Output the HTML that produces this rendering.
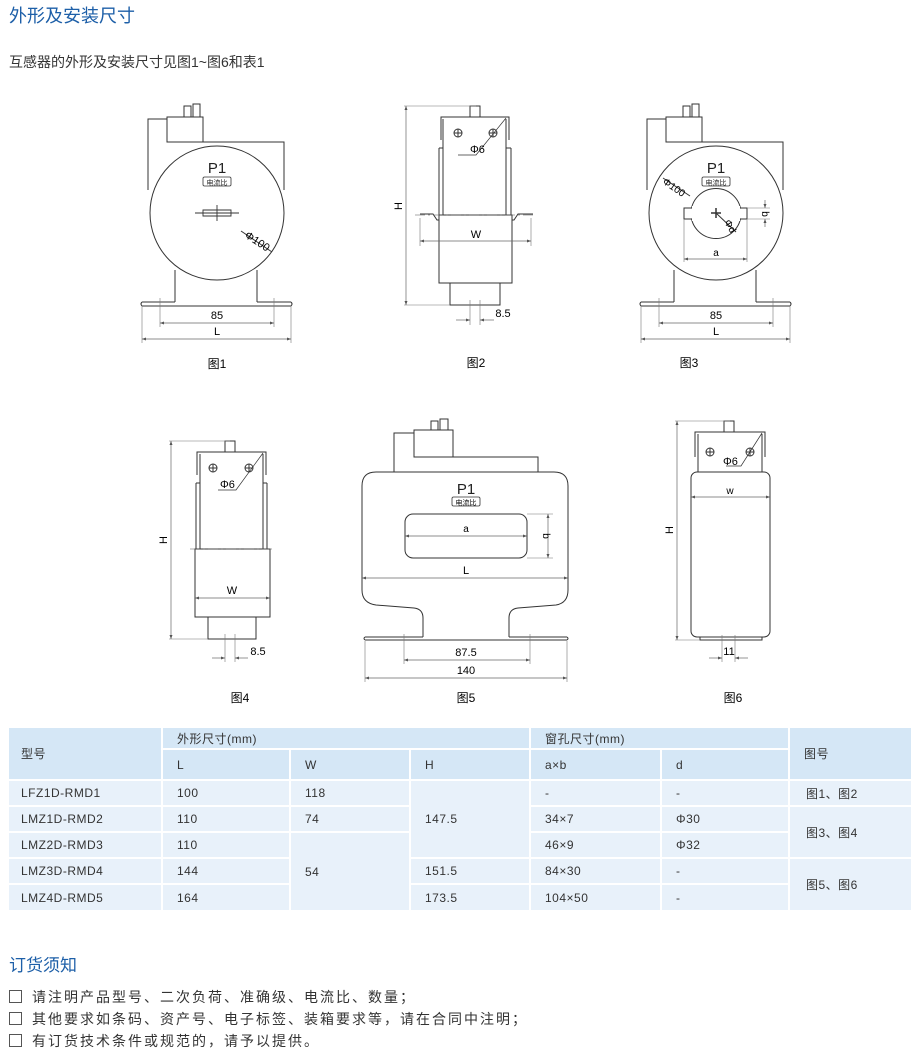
<!DOCTYPE html>
<html><head><meta charset="utf-8">
<style>
body{margin:0;width:920px;height:1054px;background:#fff;position:relative;overflow:hidden;font-family:"Liberation Sans","Noto Sans CJK SC",sans-serif;color:#333}
.a{position:absolute;white-space:nowrap}
.c{position:absolute;box-sizing:border-box;font-size:12px;color:#333;display:flex;align-items:center;padding-left:14px;letter-spacing:0.5px}
.h{background:#d5e7f6}
.d{background:#e8f1fa}
.box{display:inline-block;width:11px;height:11px;border:1px solid #555;margin-right:10px;vertical-align:-1px}
</style></head><body>
<div class="a" style="left:9px;top:2px;font-size:18px;color:#1d5fa8">外形及安装尺寸</div>
<div class="a" style="left:9px;top:52px;font-size:14px;color:#333">互感器的外形及安装尺寸见图1~图6和表1</div>

<svg class="a" style="left:0;top:0" width="920" height="720" viewBox="0 0 920 720" font-family="Liberation Sans, Noto Sans CJK SC, sans-serif">
<defs>
<marker id="ar" viewBox="0 0 8 6" refX="8" refY="3" markerWidth="6" markerHeight="5" orient="auto-start-reverse"><path d="M0,0L8,3L0,6z" fill="#555"/></marker>
<g id="fig1">
 <path d="M148,190 V119 H167 M203,142 H284 V190" fill="none" stroke="#333"/>
 <rect x="167" y="117" width="36" height="25" fill="none" stroke="#333"/>
 <rect x="184" y="106" width="7" height="11" fill="none" stroke="#333"/>
 <rect x="193" y="104" width="7" height="13" fill="none" stroke="#333"/>
 <circle cx="217" cy="213" r="67" fill="#fff" stroke="#333"/>
 <path d="M175,270 V302 M257,270 V302" stroke="#333"/>
 <path d="M142,302 H175 M257,302 H291 M142,306 H291" stroke="#333"/>
 <path d="M142,302 Q140,304 142,306 M291,302 Q293,304 291,306" stroke="#333" fill="none"/>
 <text x="217" y="173" font-size="15" text-anchor="middle" fill="#222">P1</text>
 <rect x="203" y="177" width="28" height="9" rx="1.5" fill="#fff" stroke="#333" stroke-width="0.8"/>
 <text x="217" y="185" font-size="7" text-anchor="middle" fill="#222">电流比</text>
 <line x1="142" y1="306" x2="142" y2="343" stroke="#777" stroke-width="0.6"/>
 <line x1="291" y1="306" x2="291" y2="343" stroke="#777" stroke-width="0.6"/>
 <line x1="160" y1="298" x2="160" y2="327" stroke="#777" stroke-width="0.6"/>
 <line x1="274" y1="298" x2="274" y2="327" stroke="#777" stroke-width="0.6"/>
 <line x1="160" y1="323" x2="274" y2="323" stroke="#666" stroke-width="0.7" marker-start="url(#ar)" marker-end="url(#ar)"/>
 <line x1="142" y1="339" x2="291" y2="339" stroke="#666" stroke-width="0.7" marker-start="url(#ar)" marker-end="url(#ar)"/>
 <text x="217" y="319" font-size="11" text-anchor="middle">85</text>
 <text x="217" y="335" font-size="11" text-anchor="middle">L</text>
</g>
</defs>

<!-- Fig1 -->
<use href="#fig1"/>
<path d="M195,213 H239 M203,210 H231 V216 H203 Z M217,205 V221" fill="none" stroke="#333" stroke-width="0.9"/>
<line x1="241" y1="231" x2="272" y2="252" stroke="#333"/>
<text x="244" y="237" font-size="11" transform="rotate(33 244 237)">Φ100</text>
<text x="217" y="368" font-size="12" text-anchor="middle">图1</text>

<!-- Fig3 -->
<use href="#fig1" transform="translate(499,0)"/>
<rect x="684" y="208" width="63" height="11" fill="#fff" stroke="#333"/>
<circle cx="716" cy="213.5" r="25" fill="#fff" stroke="#333"/>
<rect x="692" y="206" width="48" height="15" fill="#fff"/>
<rect x="684.6" y="208.6" width="61.8" height="9.8" fill="#fff"/>
<path d="M711,213 H721 M716,208 V218" stroke="#333" stroke-width="1.5"/>
<line x1="716" y1="213" x2="736" y2="232" stroke="#333"/>
<text x="724" y="222" font-size="10" transform="rotate(60 724 222)">Φd</text>
<line x1="663" y1="178" x2="690" y2="196" stroke="#333"/>
<text x="662" y="183" font-size="10" transform="rotate(35 662 183)">Φ100</text>
<path d="M684,219 V262 M747,219 V262 M747,208 H770 M747,219 H770" stroke="#777" stroke-width="0.6"/>
<line x1="684" y1="259" x2="747" y2="259" stroke="#666" stroke-width="0.7" marker-start="url(#ar)" marker-end="url(#ar)"/>
<text x="716" y="256" font-size="10" text-anchor="middle">a</text>
<line x1="765" y1="200" x2="765" y2="208" stroke="#666" stroke-width="0.7" marker-end="url(#ar)"/>
<line x1="765" y1="227" x2="765" y2="219" stroke="#666" stroke-width="0.7" marker-end="url(#ar)"/>
<text x="762" y="214" font-size="10" transform="rotate(90 762 214)" text-anchor="middle">b</text>
<text x="689" y="367" font-size="12" text-anchor="middle">图3</text>

<!-- Fig2 -->
<g fill="none" stroke="#333">
 <path d="M441,140 V117 H509 V140 M443,119 V215 M506,119 V215"/>
 <path d="M439,148 H443 M439,148 V215 M511,148 H506 M511,148 V215"/>
 <rect x="439" y="215" width="73" height="68"/>
 <rect x="450" y="283" width="50" height="22"/>
 <rect x="470" y="106" width="10" height="11"/>
 <path d="M420,214 H433 L437,220 H439 M533,214 H518 L514,220 H512"/>
 <circle cx="458" cy="133" r="4"/><path d="M454,133H462M458,129V137"/>
 <circle cx="493" cy="133" r="4"/><path d="M489,133H497M493,129V137"/>
 <path d="M506,118 L476,155 H458" stroke-width="0.7"/>
</g>
<line x1="415" y1="215" x2="535" y2="215" stroke="#555" stroke-width="0.6" stroke-dasharray="10,3,2,3"/>
<text x="470" y="153" font-size="11">Φ6</text>
<path d="M404,106 H476 M404,305 H450 M420,218 V246 M531,218 V246 M470,300 V325 M480,300 V325" stroke="#777" stroke-width="0.6"/>
<line x1="406" y1="106" x2="406" y2="305" stroke="#666" stroke-width="0.7" marker-start="url(#ar)" marker-end="url(#ar)"/>
<text x="402" y="206" font-size="11" transform="rotate(-90 402 206)" text-anchor="middle">H</text>
<line x1="420" y1="241" x2="531" y2="241" stroke="#666" stroke-width="0.7" marker-start="url(#ar)" marker-end="url(#ar)"/>
<text x="476" y="238" font-size="11" text-anchor="middle">W</text>
<line x1="456" y1="320" x2="470" y2="320" stroke="#666" stroke-width="0.7" marker-end="url(#ar)"/>
<line x1="494" y1="320" x2="480" y2="320" stroke="#666" stroke-width="0.7" marker-end="url(#ar)"/>
<text x="503" y="317" font-size="11" text-anchor="middle">8.5</text>
<text x="476" y="367" font-size="12" text-anchor="middle">图2</text>

<!-- Fig4 -->
<g fill="none" stroke="#333">
 <path d="M197,475 V452 H266 V475 M200,454 V549 M263,454 V549"/>
 <path d="M196,483 H200 M196,483 V549 M267,483 H263 M267,483 V549"/>
 <rect x="195" y="549" width="75" height="68"/>
 <rect x="208" y="617" width="48" height="22"/>
 <rect x="225" y="441" width="10" height="11"/>
 <circle cx="213" cy="468" r="4"/><path d="M209,468H217M213,464V472"/>
 <circle cx="249" cy="468" r="4"/><path d="M245,468H253M249,464V472"/>
 <path d="M263,453 L236,490 H218" stroke-width="0.7"/>
</g>
<line x1="190" y1="549" x2="275" y2="549" stroke="#555" stroke-width="0.6" stroke-dasharray="10,3,2,3"/>
<text x="220" y="488" font-size="11">Φ6</text>
<path d="M169,441 H230 M169,639 H208 M225,634 V662 M235,634 V662" stroke="#777" stroke-width="0.6"/>
<line x1="171" y1="441" x2="171" y2="639" stroke="#666" stroke-width="0.7" marker-start="url(#ar)" marker-end="url(#ar)"/>
<text x="167" y="540" font-size="11" transform="rotate(-90 167 540)" text-anchor="middle">H</text>
<line x1="195" y1="598" x2="270" y2="598" stroke="#666" stroke-width="0.7" marker-start="url(#ar)" marker-end="url(#ar)"/>
<text x="232" y="594" font-size="11" text-anchor="middle">W</text>
<line x1="212" y1="658" x2="225" y2="658" stroke="#666" stroke-width="0.7" marker-end="url(#ar)"/>
<line x1="248" y1="658" x2="235" y2="658" stroke="#666" stroke-width="0.7" marker-end="url(#ar)"/>
<text x="258" y="655" font-size="11" text-anchor="middle">8.5</text>
<text x="240" y="702" font-size="12" text-anchor="middle">图4</text>

<!-- Fig5 -->
<g fill="none" stroke="#333">
 <path d="M394,472 V433 H414 M453,457 H538 V472"/>
 <rect x="414" y="430" width="39" height="27"/>
 <rect x="431" y="421" width="7" height="9"/><rect x="440" y="419" width="8" height="11"/>
 <path d="M376,472 H554 Q568,472 568,486 V590 Q568,603 556,605 L518,608 Q509,609 509,618 V637 M423,637 V618 Q423,609 414,608 L376,605 Q362,603 362,590 V486 Q362,472 376,472" fill="#fff"/>
 <path d="M365,637 H423 M509,637 H567 M365,640 H567 M365,637 Q363,638.5 365,640 M567,637 Q569,638.5 567,640"/>
 <rect x="405" y="514" width="122" height="44" rx="8"/>
</g>
<text x="466" y="494" font-size="15" text-anchor="middle" fill="#222">P1</text>
<rect x="452" y="497" width="28" height="9" rx="1.5" fill="#fff" stroke="#333" stroke-width="0.8"/>
<text x="466" y="505" font-size="7" text-anchor="middle">电流比</text>
<path d="M527,514 H553 M527,558 H553 M404,634 V664 M530,634 V664 M365,641 V682 M567,641 V682" stroke="#777" stroke-width="0.6"/>
<line x1="405" y1="536" x2="527" y2="536" stroke="#666" stroke-width="0.7" marker-start="url(#ar)" marker-end="url(#ar)"/>
<text x="466" y="532" font-size="10" text-anchor="middle">a</text>
<line x1="548" y1="514" x2="548" y2="558" stroke="#666" stroke-width="0.7" marker-start="url(#ar)" marker-end="url(#ar)"/>
<text x="543" y="536" font-size="10" transform="rotate(90 543 536)" text-anchor="middle">b</text>
<line x1="362" y1="578" x2="568" y2="578" stroke="#666" stroke-width="0.7" marker-start="url(#ar)" marker-end="url(#ar)"/>
<text x="466" y="574" font-size="11" text-anchor="middle">L</text>
<line x1="404" y1="660" x2="530" y2="660" stroke="#666" stroke-width="0.7" marker-start="url(#ar)" marker-end="url(#ar)"/>
<text x="466" y="656" font-size="11" text-anchor="middle">87.5</text>
<line x1="365" y1="678" x2="567" y2="678" stroke="#666" stroke-width="0.7" marker-start="url(#ar)" marker-end="url(#ar)"/>
<text x="466" y="674" font-size="11" text-anchor="middle">140</text>
<text x="466" y="702" font-size="12" text-anchor="middle">图5</text>

<!-- Fig6 -->
<g fill="none" stroke="#333">
 <path d="M695,457 V432 H765 V457 M698,434 V472 M762,434 V472"/>
 <rect x="691" y="472" width="79" height="165" rx="6" fill="#fff"/>
 <path d="M700,637 V640 H762 V637"/>
 <rect x="724" y="421" width="10" height="11"/>
 <circle cx="710" cy="452" r="4"/><path d="M706,452H714M710,448V456"/>
 <circle cx="750" cy="452" r="4"/><path d="M746,452H754M750,448V456"/>
 <path d="M762,433 L741,466 H726" stroke-width="0.7"/>
</g>
<text x="723" y="465" font-size="11">Φ6</text>
<path d="M675,421 H730 M675,640 H700 M722,635 V662 M735,635 V662" stroke="#777" stroke-width="0.6"/>
<line x1="677" y1="421" x2="677" y2="640" stroke="#666" stroke-width="0.7" marker-start="url(#ar)" marker-end="url(#ar)"/>
<text x="673" y="530" font-size="11" transform="rotate(-90 673 530)" text-anchor="middle">H</text>
<line x1="691" y1="497" x2="770" y2="497" stroke="#666" stroke-width="0.7" marker-start="url(#ar)" marker-end="url(#ar)"/>
<text x="730" y="494" font-size="10" text-anchor="middle">w</text>
<line x1="709" y1="658" x2="722" y2="658" stroke="#666" stroke-width="0.7" marker-end="url(#ar)"/>
<line x1="748" y1="658" x2="735" y2="658" stroke="#666" stroke-width="0.7" marker-end="url(#ar)"/>
<text x="729" y="655" font-size="11" text-anchor="middle">11</text>
<text x="733" y="702" font-size="12" text-anchor="middle">图6</text>

<text x="911" y="747" font-size="12" text-anchor="end">表1</text>
</svg>

<!-- Table -->
<div class="c h" style="left:9px;top:728px;width:152px;height:51px;padding-left:12px">型号</div>
<div class="c h" style="left:163px;top:728px;width:366px;height:20px">外形尺寸(mm)</div>
<div class="c h" style="left:531px;top:728px;width:257px;height:20px">窗孔尺寸(mm)</div>
<div class="c h" style="left:790px;top:728px;width:121px;height:51px">图号</div>
<div class="c h" style="left:163px;top:750px;width:126px;height:29px">L</div>
<div class="c h" style="left:291px;top:750px;width:118px;height:29px">W</div>
<div class="c h" style="left:411px;top:750px;width:118px;height:29px">H</div>
<div class="c h" style="left:531px;top:750px;width:129px;height:29px">a×b</div>
<div class="c h" style="left:662px;top:750px;width:126px;height:29px">d</div>

<div class="c d" style="left:9px;top:781px;width:152px;height:24px;padding-left:12px">LFZ1D-RMD1</div>
<div class="c d" style="left:9px;top:807px;width:152px;height:24px;padding-left:12px">LMZ1D-RMD2</div>
<div class="c d" style="left:9px;top:833px;width:152px;height:24px;padding-left:12px">LMZ2D-RMD3</div>
<div class="c d" style="left:9px;top:859px;width:152px;height:24px;padding-left:12px">LMZ3D-RMD4</div>
<div class="c d" style="left:9px;top:885px;width:152px;height:25px;padding-left:12px">LMZ4D-RMD5</div>

<div class="c d" style="left:163px;top:781px;width:126px;height:24px">100</div>
<div class="c d" style="left:163px;top:807px;width:126px;height:24px">110</div>
<div class="c d" style="left:163px;top:833px;width:126px;height:24px">110</div>
<div class="c d" style="left:163px;top:859px;width:126px;height:24px">144</div>
<div class="c d" style="left:163px;top:885px;width:126px;height:25px">164</div>

<div class="c d" style="left:291px;top:781px;width:118px;height:24px">118</div>
<div class="c d" style="left:291px;top:807px;width:118px;height:24px">74</div>
<div class="c d" style="left:291px;top:833px;width:118px;height:77px">54</div>

<div class="c d" style="left:411px;top:781px;width:118px;height:76px">147.5</div>
<div class="c d" style="left:411px;top:859px;width:118px;height:24px">151.5</div>
<div class="c d" style="left:411px;top:885px;width:118px;height:25px">173.5</div>

<div class="c d" style="left:531px;top:781px;width:129px;height:24px">-</div>
<div class="c d" style="left:531px;top:807px;width:129px;height:24px">34×7</div>
<div class="c d" style="left:531px;top:833px;width:129px;height:24px">46×9</div>
<div class="c d" style="left:531px;top:859px;width:129px;height:24px">84×30</div>
<div class="c d" style="left:531px;top:885px;width:129px;height:25px">104×50</div>

<div class="c d" style="left:662px;top:781px;width:126px;height:24px">-</div>
<div class="c d" style="left:662px;top:807px;width:126px;height:24px">Φ30</div>
<div class="c d" style="left:662px;top:833px;width:126px;height:24px">Φ32</div>
<div class="c d" style="left:662px;top:859px;width:126px;height:24px">-</div>
<div class="c d" style="left:662px;top:885px;width:126px;height:25px">-</div>

<div class="c d" style="left:790px;top:781px;width:121px;height:24px;padding-left:16px">图1、图2</div>
<div class="c d" style="left:790px;top:807px;width:121px;height:50px;padding-left:16px">图3、图4</div>
<div class="c d" style="left:790px;top:859px;width:121px;height:51px;padding-left:16px">图5、图6</div>

<div class="a" style="left:9px;top:951px;font-size:17px;color:#1d5fa8">订货须知</div>
<div class="a" style="left:9px;top:987px;font-size:14px;letter-spacing:2px"><span class="box"></span>请注明产品型号、二次负荷、准确级、电流比、数量；</div>
<div class="a" style="left:9px;top:1009px;font-size:14px;letter-spacing:2px"><span class="box"></span>其他要求如条码、资产号、电子标签、装箱要求等，请在合同中注明；</div>
<div class="a" style="left:9px;top:1031px;font-size:14px;letter-spacing:2px"><span class="box"></span>有订货技术条件或规范的，请予以提供。</div>
</body></html>
